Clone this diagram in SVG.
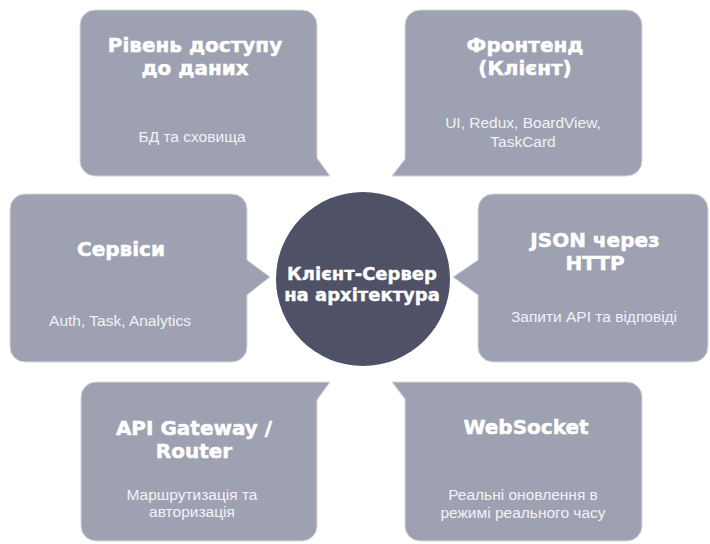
<svg xmlns="http://www.w3.org/2000/svg" width="710" height="544" viewBox="0 0 710 544">
  <style>
    .box { fill: #9ea1b2; stroke: #d6d8de; stroke-width: 1; }
    .hub { fill: #4f5267; }
    .title { font-family: "DejaVu Sans", "Liberation Sans", sans-serif; font-weight: bold; font-size: 20px; fill: #ffffff; stroke: #ffffff; stroke-width: 0.5; text-anchor: middle; }
    .hubtext { font-family: "DejaVu Sans", "Liberation Sans", sans-serif; font-weight: bold; font-size: 18px; fill: #ffffff; stroke: #ffffff; stroke-width: 0.4; text-anchor: middle; }
    .sub { font-family: "Liberation Sans", Arial, sans-serif; font-size: 15.5px; fill: #f2f2f6; text-anchor: middle; }
  </style>
  <rect width="710" height="544" fill="#ffffff"/>

  <!-- data access layer, tail toward the hub at bottom-right -->
  <g id="data-access">
    <path class="box" d="M95,10 H302 A15,15 0 0 1 317,25 V158 L330,176 H95 A15,15 0 0 1 80,161 V25 A15,15 0 0 1 95,10 Z"/>
    <text class="title" x="195" y="52">Рівень доступу</text>
    <text class="title" x="195" y="75">до даних</text>
    <text class="sub" x="192" y="142">БД та сховища</text>
  </g>

  <!-- frontend, tail at bottom-left -->
  <g id="frontend">
    <path class="box" d="M420,10 H627 A15,15 0 0 1 642,25 V161 A15,15 0 0 1 627,176 H392 L405,159 V25 A15,15 0 0 1 420,10 Z"/>
    <text class="title" x="525" y="52">Фронтенд</text>
    <text class="title" x="525" y="75">(Клієнт)</text>
    <text class="sub" x="523" y="128">UI, Redux, BoardView,</text>
    <text class="sub" x="523" y="147">TaskCard</text>
  </g>

  <!-- services, tail on the right side -->
  <g id="services">
    <path class="box" d="M25,194 H232 A15,15 0 0 1 247,209 V260 L270,277 L247,295 V347 A15,15 0 0 1 232,362 H25 A15,15 0 0 1 10,347 V209 A15,15 0 0 1 25,194 Z"/>
    <text class="title" x="121" y="256">Сервіси</text>
    <text class="sub" x="120" y="326">Auth, Task, Analytics</text>
  </g>

  <!-- JSON over HTTP, tail on the left side -->
  <g id="json-http">
    <path class="box" d="M493,194 H693 A15,15 0 0 1 708,209 V347 A15,15 0 0 1 693,362 H493 A15,15 0 0 1 478,347 V295 L453,277 L478,260 V209 A15,15 0 0 1 493,194 Z"/>
    <text class="title" x="595" y="247">JSON через</text>
    <text class="title" x="595" y="270">HTTP</text>
    <text class="sub" x="594" y="322">Запити API та відповіді</text>
  </g>

  <!-- API gateway, tail at top-right -->
  <g id="api-gateway">
    <path class="box" d="M96,382 H330 L317,400 V526 A15,15 0 0 1 302,541 H96 A15,15 0 0 1 81,526 V397 A15,15 0 0 1 96,382 Z"/>
    <text class="title" x="194" y="435">API Gateway /</text>
    <text class="title" x="194" y="458">Router</text>
    <text class="sub" x="192" y="500">Маршрутизація та</text>
    <text class="sub" x="192" y="517">авторизація</text>
  </g>

  <!-- websocket, tail at top-left -->
  <g id="websocket">
    <path class="box" d="M392,382 H627 A15,15 0 0 1 642,397 V526 A15,15 0 0 1 627,541 H420 A15,15 0 0 1 405,526 V399 Z"/>
    <text class="title" x="526" y="434">WebSocket</text>
    <text class="sub" x="523" y="500">Реальні оновлення в</text>
    <text class="sub" x="523" y="518">режимі реального часу</text>
  </g>

  <!-- central hub -->
  <g id="hub">
    <circle class="hub" cx="363" cy="279" r="87"/>
    <text class="hubtext" x="362" y="280">Клієнт-Сервер</text>
    <text class="hubtext" x="362" y="301">на архітектура</text>
  </g>
</svg>
